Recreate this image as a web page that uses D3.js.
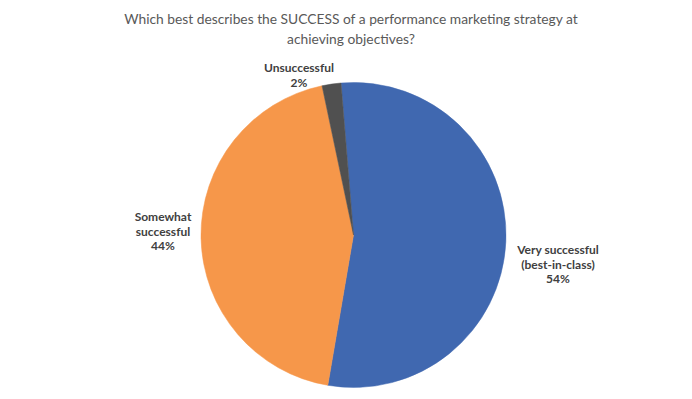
<!DOCTYPE html>
<html>
<head>
<meta charset="utf-8">
<script src="https://cdn.jsdelivr.net/npm/d3@7"></script>
<style>
  body { margin: 0; background: #fff; }
  svg text { font-family: Lato, "Open Sans", sans-serif; }
</style>
</head>
<body>
<script>
// chart size
var width = 692, height = 399;

// data
var categories = ["Very successful (best-in-class)", "Somewhat successful", "Unsuccessful"];
var values = [54, 44, 2];
var labelLines = [["Very successful", "(best-in-class)", "54%"], ["Somewhat", "successful", "44%"], ["Unsuccessful", "2%"]];
var colors = ["#4068B0", "#F6974A", "#505050"];
var titleLines = ["Which best describes the SUCCESS of a performance marketing strategy at", "achieving objectives?"];

var svg = d3.select("body").append("svg")
    .attr("width", width)
    .attr("height", height);

// title
svg.append("text")
    .attr("x", 351)
    .attr("y", 24)
    .attr("text-anchor", "middle")
    .style("font-size", "13.8px")
    .style("fill", "#595959")
  .selectAll("tspan")
    .data(titleLines)
  .enter().append("tspan")
    .attr("x", 351)
    .attr("dy", function(d, i) { return i == 0 ? 0 : 20; })
    .text(function(d) { return d; });

var cx = 353.5, cy = 235, radius = 152.5;

var pie = d3.pie()
    .sort(null)
    .startAngle(-4.7 * Math.PI / 180)
    .endAngle(2 * Math.PI - 4.7 * Math.PI / 180)
    .value(function(d) { return d; });

var arc = d3.arc().innerRadius(0).outerRadius(radius);

var g = svg.append("g")
    .attr("transform", "translate(" + cx + "," + cy + ")");

g.selectAll(".slice")
    .data(pie(values))
  .enter().append("path")
    .attr("class", "slice")
    .attr("d", arc)
    .style("fill", function(d, i) { return colors[i]; })
    .style("stroke", function(d, i) { return colors[i]; })
    .style("stroke-width", 0.5);

// label positions (outside end of each slice)
var labelPos = [[558, 254], [163, 221], [299, 72]];

svg.selectAll(".label")
    .data(labelLines)
  .enter().append("text")
    .attr("class", "label")
    .attr("text-anchor", "middle")
    .style("font-size", "12px")
    .style("font-weight", "bold")
    .style("fill", "#404040")
    .each(function(lines, i) {
      d3.select(this).selectAll("tspan")
          .data(lines)
        .enter().append("tspan")
          .attr("x", labelPos[i][0])
          .attr("y", function(d, j) { return labelPos[i][1] + j * 14.5; })
          .text(function(d) { return d; });
    });
</script>
</body>
</html>
